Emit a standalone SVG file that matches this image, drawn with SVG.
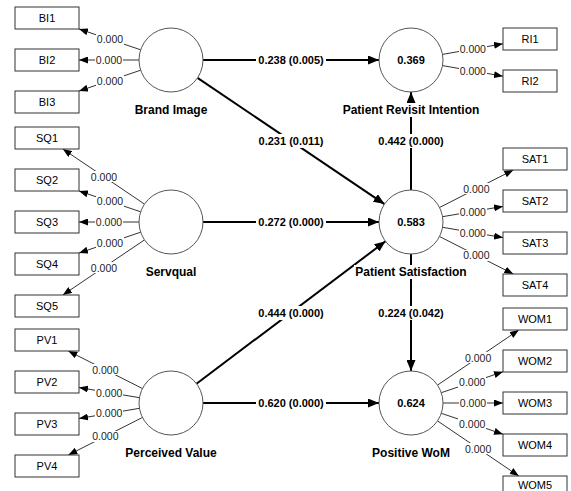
<svg xmlns="http://www.w3.org/2000/svg" width="571" height="491" viewBox="0 0 571 491">
<style>
.bg{fill:#fff}
.box{fill:#fff;stroke:#333;stroke-width:1}
.lv{fill:#fff;stroke:#555;stroke-width:1}
.ld{stroke:#333;stroke-width:1;fill:none;marker-end:url(#ha)}
.pc{stroke:#000;stroke-width:2;fill:none;marker-end:url(#hb)}
text{font-family:"Liberation Sans",Arial,sans-serif;text-anchor:middle;dominant-baseline:central;fill:#000}
.bt{font-size:11px}
.lt{font-size:10.5px;fill:#222}
.ct{font-size:11px;font-weight:bold}
.nt{font-size:12px;font-weight:bold}
.rt{font-size:11px;font-weight:bold}
</style>
<defs>
<marker id="ha" viewBox="0 0 9 7" refX="9" refY="3.5" markerWidth="9" markerHeight="7" markerUnits="userSpaceOnUse" orient="auto"><path d="M0,0 L9,3.5 L0,7 z" fill="#000"/></marker>
<marker id="hb" viewBox="0 0 11 9" refX="11" refY="4.5" markerWidth="11" markerHeight="9" markerUnits="userSpaceOnUse" orient="auto"><path d="M0,0 L11,4.5 L0,9 z" fill="#000"/></marker>
</defs>
<rect width="571" height="491" fill="#fff"/>

<g id="connectors">
<line class="pc" x1="203" y1="60" x2="379" y2="60"/>
<line class="pc" x1="197.5" y1="77.9" x2="384.5" y2="204.1"/>
<line class="pc" x1="203" y1="222" x2="379" y2="222"/>
<line class="pc" x1="196.5" y1="383.7" x2="385.5" y2="241.3"/>
<line class="pc" x1="203" y1="403" x2="379" y2="403"/>
<line class="pc" x1="411" y1="190" x2="411" y2="92"/>
<line class="pc" x1="411" y1="254" x2="411" y2="371"/>
<line class="ld" x1="140.7" y1="49.8" x2="79" y2="29"/>
<line class="ld" x1="139" y1="60" x2="79" y2="60"/>
<line class="ld" x1="140.7" y1="70.2" x2="79" y2="91"/>
<line class="ld" x1="144.5" y1="204.1" x2="62.8" y2="149"/>
<line class="ld" x1="140.7" y1="211.8" x2="79" y2="191"/>
<line class="ld" x1="139" y1="222" x2="79" y2="222"/>
<line class="ld" x1="140.7" y1="232.2" x2="79" y2="253"/>
<line class="ld" x1="144.5" y1="239.9" x2="62.8" y2="295"/>
<line class="ld" x1="142.4" y1="388.5" x2="68.3" y2="351"/>
<line class="ld" x1="139.5" y1="397.7" x2="79" y2="387.5"/>
<line class="ld" x1="139.5" y1="408.3" x2="79" y2="418.5"/>
<line class="ld" x1="142.4" y1="417.5" x2="68.3" y2="455"/>
<line class="ld" x1="442.5" y1="54.4" x2="503" y2="43.8"/>
<line class="ld" x1="442.5" y1="65.6" x2="503" y2="76.2"/>
<line class="ld" x1="439.5" y1="207.5" x2="513.3" y2="170"/>
<line class="ld" x1="442.5" y1="216.7" x2="503" y2="206.4"/>
<line class="ld" x1="442.5" y1="227.3" x2="503" y2="237.6"/>
<line class="ld" x1="439.5" y1="236.5" x2="513.3" y2="274"/>
<line class="ld" x1="437.5" y1="385.1" x2="518.8" y2="330"/>
<line class="ld" x1="441.3" y1="392.7" x2="503" y2="371.8"/>
<line class="ld" x1="443" y1="403" x2="503" y2="403"/>
<line class="ld" x1="441.3" y1="413.3" x2="503" y2="434.2"/>
<line class="ld" x1="437.5" y1="420.9" x2="518.8" y2="476"/>
<rect class="bg" x="256" y="53" width="70" height="14"/><text class="ct" x="291" y="60">0.238 (0.005)</text>
<rect class="bg" x="256" y="134" width="70" height="14"/><text class="ct" x="291" y="141">0.231 (0.011)</text>
<rect class="bg" x="256" y="215" width="70" height="14"/><text class="ct" x="291" y="222">0.272 (0.000)</text>
<rect class="bg" x="256" y="306" width="70" height="14"/><text class="ct" x="291" y="313">0.444 (0.000)</text>
<rect class="bg" x="256" y="396" width="70" height="14"/><text class="ct" x="291" y="403">0.620 (0.000)</text>
<rect class="bg" x="376" y="134" width="70" height="14"/><text class="ct" x="411" y="141">0.442 (0.000)</text>
<rect class="bg" x="376" y="306" width="70" height="14"/><text class="ct" x="411" y="313">0.224 (0.042)</text>
<g class="lt">
<rect class="bg" x="96" y="34" width="28" height="11"/><text class="lt" x="110" y="39.4">0.000</text>
<rect class="bg" x="95" y="54.5" width="28" height="11"/><text class="lt" x="109" y="60">0.000</text>
<rect class="bg" x="96" y="75" width="28" height="11"/><text class="lt" x="110" y="80.6">0.000</text>
<rect class="bg" x="90" y="171" width="28" height="11"/><text class="lt" x="104" y="176.5">0.000</text>
<rect class="bg" x="96" y="196" width="28" height="11"/><text class="lt" x="110" y="201.4">0.000</text>
<rect class="bg" x="95" y="216.5" width="28" height="11"/><text class="lt" x="109" y="222">0.000</text>
<rect class="bg" x="96" y="237" width="28" height="11"/><text class="lt" x="110" y="242.6">0.000</text>
<rect class="bg" x="90" y="262" width="28" height="11"/><text class="lt" x="104" y="267.5">0.000</text>
<rect class="bg" x="91" y="364" width="28" height="11"/><text class="lt" x="105.4" y="369.8">0.000</text>
<rect class="bg" x="95" y="387" width="28" height="11"/><text class="lt" x="109.2" y="392.6">0.000</text>
<rect class="bg" x="95" y="408" width="28" height="11"/><text class="lt" x="109.2" y="413.4">0.000</text>
<rect class="bg" x="91" y="431" width="28" height="11"/><text class="lt" x="105.4" y="436.2">0.000</text>
<rect class="bg" x="459" y="43.5" width="28" height="11"/><text class="lt" x="472.8" y="49.1">0.000</text>
<rect class="bg" x="459" y="65.5" width="28" height="11"/><text class="lt" x="472.8" y="70.9">0.000</text>
<rect class="bg" x="462" y="183" width="28" height="11"/><text class="lt" x="476.4" y="188.8">0.000</text>
<rect class="bg" x="459" y="206" width="28" height="11"/><text class="lt" x="472.8" y="211.5">0.000</text>
<rect class="bg" x="459" y="227" width="28" height="11"/><text class="lt" x="472.8" y="232.5">0.000</text>
<rect class="bg" x="462" y="250" width="28" height="11"/><text class="lt" x="476.4" y="255.2">0.000</text>
<rect class="bg" x="464" y="352" width="28" height="11"/><text class="lt" x="478.1" y="357.5">0.000</text>
<rect class="bg" x="458" y="377" width="28" height="11"/><text class="lt" x="472.2" y="382.3">0.000</text>
<rect class="bg" x="459" y="397.5" width="28" height="11"/><text class="lt" x="473" y="403">0.000</text>
<rect class="bg" x="458" y="418" width="28" height="11"/><text class="lt" x="472.2" y="423.7">0.000</text>
<rect class="bg" x="464" y="443" width="28" height="11"/><text class="lt" x="478.1" y="448.5">0.000</text>
</g>
</g>

<g id="brand-image"><circle class="lv" cx="171" cy="60" r="32"/><rect class="bg" x="133" y="103" width="77" height="14"/><text class="nt" x="171" y="110">Brand Image</text></g>
<g id="servqual"><circle class="lv" cx="171" cy="222" r="32"/><rect class="bg" x="144" y="265" width="54" height="14"/><text class="nt" x="171" y="272">Servqual</text></g>
<g id="perceived-value"><circle class="lv" cx="171" cy="403" r="32"/><rect class="bg" x="123" y="446" width="96" height="14"/><text class="nt" x="171" y="453">Perceived Value</text></g>
<g id="patient-revisit-intention"><circle class="lv" cx="411" cy="60" r="32"/><text class="rt" x="411" y="60">0.369</text><rect class="bg" x="341" y="103" width="140" height="14"/><text class="nt" x="411" y="110">Patient Revisit Intention</text></g>
<g id="patient-satisfaction"><circle class="lv" cx="411" cy="222" r="32"/><text class="rt" x="411" y="222">0.583</text><rect class="bg" x="354" y="265" width="115" height="14"/><text class="nt" x="411" y="272">Patient Satisfaction</text></g>
<g id="positive-wom"><circle class="lv" cx="411" cy="403" r="32"/><text class="rt" x="411" y="403">0.624</text><rect class="bg" x="371" y="446" width="81" height="14"/><text class="nt" x="411" y="453">Positive WoM</text></g>

<g id="BI1"><rect class="box" x="15" y="7" width="64" height="22"/><text class="bt" x="47" y="18">BI1</text></g>
<g id="BI2"><rect class="box" x="15" y="49" width="64" height="22"/><text class="bt" x="47" y="60">BI2</text></g>
<g id="BI3"><rect class="box" x="15" y="91" width="64" height="22"/><text class="bt" x="47" y="102">BI3</text></g>
<g id="SQ1"><rect class="box" x="15" y="127" width="64" height="22"/><text class="bt" x="47" y="138">SQ1</text></g>
<g id="SQ2"><rect class="box" x="15" y="169" width="64" height="22"/><text class="bt" x="47" y="180">SQ2</text></g>
<g id="SQ3"><rect class="box" x="15" y="211" width="64" height="22"/><text class="bt" x="47" y="222">SQ3</text></g>
<g id="SQ4"><rect class="box" x="15" y="253" width="64" height="22"/><text class="bt" x="47" y="264">SQ4</text></g>
<g id="SQ5"><rect class="box" x="15" y="295" width="64" height="22"/><text class="bt" x="47" y="306">SQ5</text></g>
<g id="PV1"><rect class="box" x="15" y="329" width="64" height="22"/><text class="bt" x="47" y="340">PV1</text></g>
<g id="PV2"><rect class="box" x="15" y="371" width="64" height="22"/><text class="bt" x="47" y="382">PV2</text></g>
<g id="PV3"><rect class="box" x="15" y="413" width="64" height="22"/><text class="bt" x="47" y="424">PV3</text></g>
<g id="PV4"><rect class="box" x="15" y="455" width="64" height="22"/><text class="bt" x="47" y="466">PV4</text></g>
<g id="RI1"><rect class="box" x="503" y="28" width="54" height="22"/><text class="bt" x="530" y="39">RI1</text></g>
<g id="RI2"><rect class="box" x="503" y="70" width="54" height="22"/><text class="bt" x="530" y="81">RI2</text></g>
<g id="SAT1"><rect class="box" x="503" y="148" width="64" height="22"/><text class="bt" x="535" y="159">SAT1</text></g>
<g id="SAT2"><rect class="box" x="503" y="190" width="64" height="22"/><text class="bt" x="535" y="201">SAT2</text></g>
<g id="SAT3"><rect class="box" x="503" y="232" width="64" height="22"/><text class="bt" x="535" y="243">SAT3</text></g>
<g id="SAT4"><rect class="box" x="503" y="274" width="64" height="22"/><text class="bt" x="535" y="285">SAT4</text></g>
<g id="WOM1"><rect class="box" x="503" y="308" width="64" height="22"/><text class="bt" x="535" y="319">WOM1</text></g>
<g id="WOM2"><rect class="box" x="503" y="350" width="64" height="22"/><text class="bt" x="535" y="361">WOM2</text></g>
<g id="WOM3"><rect class="box" x="503" y="392" width="64" height="22"/><text class="bt" x="535" y="403">WOM3</text></g>
<g id="WOM4"><rect class="box" x="503" y="434" width="64" height="22"/><text class="bt" x="535" y="445">WOM4</text></g>
<g id="WOM5"><rect class="box" x="503" y="476" width="64" height="22"/><text class="bt" x="535" y="484.5">WOM5</text></g>
</svg>
